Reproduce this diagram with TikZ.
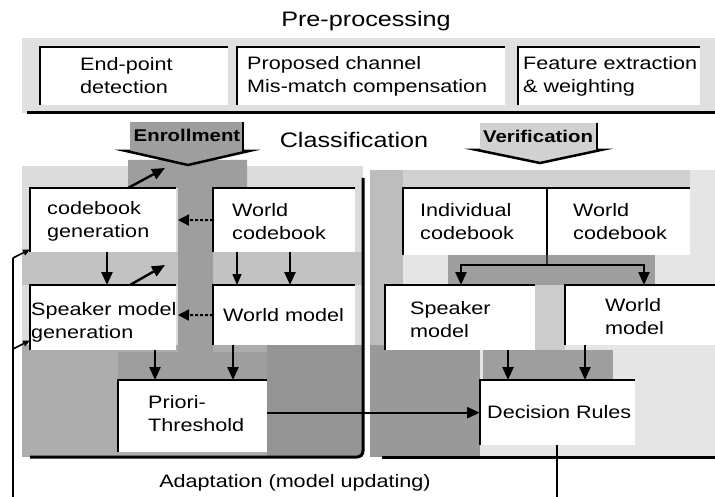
\documentclass[tikz,border=0pt]{standalone}
\usepackage{fontspec}
\setmainfont{Liberation Sans}
\newfontfamily\gul[FakeStretch=1.2]{Liberation Sans}
\usetikzlibrary{arrows.meta}
\tikzset{
  wbox/.style={fill=white, draw=none, inner sep=0pt, anchor=north west},
  txt/.style={font=\gul\fontsize{18}{23}\selectfont, align=left, inner sep=0pt, anchor=west},
  headtxt/.style={font=\gul\fontsize{21}{25}\selectfont, inner sep=0pt, anchor=base},
  boldtxt/.style={font=\gul\bfseries\fontsize{17}{20}\selectfont, inner sep=0pt, anchor=base},
  edgeln/.style={line width=2pt},
  arr/.style={line width=2.4pt, -{Triangle[width=11pt,length=13pt]}},
  thinarr/.style={line width=1.4pt, -{Triangle[width=9pt,length=11pt]}},
  darr/.style={line width=2pt, dash pattern=on 3pt off 2pt, -{Triangle[width=11pt,length=11pt]}},
  fbarr/.style={line width=1.6pt, -{Triangle[width=6pt,length=7pt]}},
  fbline/.style={line width=2pt},
  band/.style={fill=black!38},
}
\newcommand\bxx[5]{%
  \node[wbox, minimum width=#4pt, minimum height=#5pt] (#1) at (#2,#3) {};
  \draw[edgeln] (#1.south west) -- (#1.north west) -- (#1.north east);}
\begin{document}
\begin{tikzpicture}[x=1pt,y=-1pt]
\useasboundingbox (0,0) rectangle (715,497);
\fill[white] (0,0) rectangle (715,497);

% ---------- Pre-processing ----------
\node[headtxt] (pre) at (366,27) {Pre-processing};
\fill[black!12] (22,38) rectangle (715,113);
\draw[line width=3pt] (27,113) -- (715,113);
\bxx{ep}{40}{47}{188}{58}
\bxx{pc}{237}{47}{268}{58}
\bxx{fe}{518}{47}{182}{58}
\node[txt] (ept) at (80,76) {End-point\\detection};
\node[txt] (pct) at (247,76) {Proposed channel\\Mis-match compensation};
\node[txt] (fet) at (523,76) {Feature extraction\\\& weighting};

\node[headtxt] (cls) at (354,148) {Classification};

% ---------- left panel background ----------
\fill[black!14] (22,166) rectangle (363,457);
\fill[black!24] (22,252) rectangle (363,285);
\fill[black!32] (22,345) rectangle (363,457);
\fill[black!42] (267,345) rectangle (363,457);
\fill[band] (128,160) -- (247,160) -- (247,188) -- (213,188) -- (213,352) -- (267,352)
  -- (267,380) -- (118,380) -- (118,352) -- (178,352) -- (178,188) -- (128,188) -- cycle;

% ---------- right panel background ----------
\fill[black!10] (370,170) rectangle (715,457);
\fill[black!18] (403,170) rectangle (690,188);
\fill[black!26] (370,170) rectangle (403,290);
\fill[black!26] (370,285) rectangle (385,350);
\fill[black!40] (370,345) rectangle (480,457);
\fill[black!20] (535,285) rectangle (565,350);
\fill[band] (448,255) rectangle (655,285);
\fill[band] (483,350) rectangle (613,380);

% ---------- Enrollment / Verification arrows ----------
\fill[black!38] (130,122) rectangle (243,152);
\fill[black!38] (126,151) -- (249,151) -- (188,165) -- cycle;
\draw[line width=2.5pt] (243,122) -- (243,152);
\draw[line width=2.5pt] (130,151) -- (126,151) -- (188,165) -- (249,151) -- (243,151);
\node[boldtxt] (enr) at (187,142) {Enrollment};

\fill[black!18] (480,123) rectangle (597,151);
\fill[black!18] (477,150) -- (601,150) -- (540,163) -- cycle;
\draw[line width=2.5pt] (597,123) -- (597,151);
\draw[line width=2.5pt] (480,150) -- (477,150) -- (540,163) -- (601,150) -- (597,150);
\node[boldtxt] (ver) at (538,143) {Verification};

% ---------- left panel boxes ----------
\bxx{cg}{30}{188}{146}{64}
\bxx{wc}{213}{188}{142}{64}
\bxx{sm}{30}{285}{146}{65}
\bxx{wm}{213}{285}{142}{60}
\bxx{pr}{118}{380}{149}{72}
\node[txt] (cgt) at (47,221) {codebook\\generation};
\node[txt] (wct) at (232,222) {World\\codebook};
\node[txt] (smt) at (31,322) {Speaker model\\generation};
\node[txt] (wmt) at (223,315) {World model};
\node[txt] (prt) at (148,414) {Priori-\\Threshold};

% ---------- right panel boxes ----------
\bxx{ic}{403}{188}{144}{67}
\bxx{wc2}{547}{188}{143}{67}
\bxx{spm}{385}{285}{150}{65}
\bxx{wm2}{565}{285}{150}{60}
\bxx{dec}{480}{380}{155}{65}
\node[txt] (ict) at (420,222) {Individual\\codebook};
\node[txt] (wc2t) at (573,222) {World\\codebook};
\node[txt] (spmt) at (410,320) {Speaker\\model};
\node[txt] (wm2t) at (605,317) {World\\model};
\node[txt] (dect) at (487,412) {Decision Rules};

% ---------- panel edges ----------
\draw[line width=3pt, rounded corners=6pt] (363,178) -- (363,457) -- (30,457);
\draw[line width=3pt] (382,457) -- (715,457);

% ---------- left panel connectors ----------
\coordinate (e1) at (165,168);
\coordinate (e2) at (165,265);
\coordinate (b1) at (178,220);
\coordinate (b2) at (178,315);
\draw[arr] ([xshift=98pt]cg.north west) -- (e1);
\draw[darr] (wc.west) -- (b1);
\draw[arr] ([xshift=77pt]cg.south west) -- ([xshift=77pt]sm.north west);
\draw[arr] ([xshift=100pt]sm.north west) -- (e2);
\draw[thinarr] ([xshift=24pt]wc.south west) -- ([xshift=24pt]wm.north west);
\draw[arr] ([xshift=77pt]wc.south west) -- ([xshift=77pt]wm.north west);
\draw[darr] (wm.west) -- (b2);
\draw[arr] ([xshift=125pt]sm.south west) -- ([xshift=37pt]pr.north west);
\draw[arr] ([xshift=20pt]wm.south west) -- ([xshift=115pt]pr.north west);

% ---------- right panel connectors ----------
\coordinate (j) at (547,265);
\draw[line width=1.2pt] (ic.north east) -- (j);
\draw[arr] (j) -| ([xshift=76pt]spm.north west);
\draw[arr] (j) -| ([xshift=79pt]wm2.north west);
\draw[arr] ([xshift=123pt]spm.south west) -- ([xshift=28pt]dec.north west);
\draw[arr] ([xshift=20pt]wm2.south west) -- ([xshift=105pt]dec.north west);

% Priori -> Decision
\draw[arr] (pr.east |- dec.west) -- (dec.west);

% ---------- adaptation feedback ----------
\coordinate (fb0) at (13,497);
\coordinate (fbA) at (13,258);
\coordinate (fbB) at (13,349);
\coordinate (fbD) at (557,497);
\draw[fbline] (fb0) -- (fbA);
\draw[fbarr] (fbA) -- ([yshift=3pt]cg.south west);
\draw[fbarr] (fbB) -- ([yshift=10pt]sm.south west);
\draw[fbline] ([xshift=77pt]dec.south west) -- (fbD);
\node[font=\gul\fontsize{18}{23}\selectfont, inner sep=0pt, anchor=base] (ad) at (295,487) {Adaptation (model updating)};
\end{tikzpicture}
\end{document}
